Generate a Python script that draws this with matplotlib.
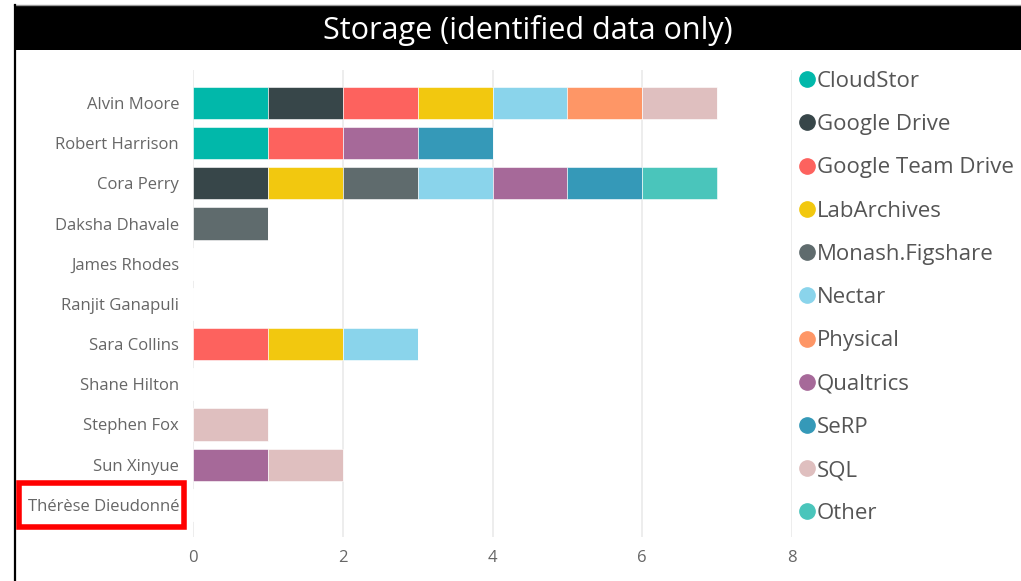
import matplotlib
matplotlib.use("Agg")
import matplotlib.pyplot as plt
from matplotlib.patches import Rectangle
from matplotlib.lines import Line2D
import numpy as np

people = ["Alvin Moore", "Robert Harrison", "Cora Perry", "Daksha Dhavale",
          "James Rhodes", "Ranjit Ganapuli", "Sara Collins", "Shane Hilton",
          "Stephen Fox", "Sun Xinyue", "Thérèse Dieudonné"]
storages = ["CloudStor", "Google Drive", "Google Team Drive", "LabArchives",
            "Monash.Figshare", "Nectar", "Physical", "Qualtrics", "SeRP", "SQL", "Other"]
colors = ["#01B8AA", "#374649", "#FD625E", "#F2C80F", "#5F6B6D", "#8AD4EB",
          "#FE9666", "#A66999", "#3599B8", "#DFBFBF", "#4AC5BB"]

# counts per storage, one value per person (in people order)
cloudstor     = [1, 1, 0, 0, 0, 0, 0, 0, 0, 0, 0]
google_drive  = [1, 0, 1, 0, 0, 0, 0, 0, 0, 0, 0]
google_team   = [1, 1, 0, 0, 0, 0, 1, 0, 0, 0, 0]
labarchives   = [1, 0, 1, 0, 0, 0, 1, 0, 0, 0, 0]
monash_fig    = [0, 0, 1, 1, 0, 0, 0, 0, 0, 0, 0]
nectar        = [1, 0, 1, 0, 0, 0, 1, 0, 0, 0, 0]
physical      = [1, 0, 0, 0, 0, 0, 0, 0, 0, 0, 0]
qualtrics     = [0, 1, 1, 0, 0, 0, 0, 0, 0, 1, 0]
serp          = [0, 1, 1, 0, 0, 0, 0, 0, 0, 0, 0]
sql           = [1, 0, 0, 0, 0, 0, 0, 0, 1, 1, 0]
other         = [0, 0, 1, 0, 0, 0, 0, 0, 0, 0, 0]
series = [cloudstor, google_drive, google_team, labarchives, monash_fig, nectar,
          physical, qualtrics, serp, sql, other]
xticks = [0, 2, 4, 6, 8]

FONT = ["Open Sans", "DejaVu Sans"]
plt.rcParams["font.family"] = FONT

W, H = 1021, 581
fig = plt.figure(figsize=(W / 100, H / 100), dpi=100)
fig.patch.set_facecolor("white")

def fx(px):
    return px / W

def fy(py):
    return 1 - py / H

ax = fig.add_axes([fx(193), fy(537), fx(792) - fx(193), fy(70) - fy(537)])
y = np.arange(len(people))
left = np.zeros(len(people))
for vals, c, name in zip(series, colors, storages):
    v = np.array(vals, dtype=float)
    ax.barh(y, v, left=left, height=0.8, color=c, edgecolor="white", linewidth=0.4, label=name, zorder=3)
    left += v

ax.set_xlim(0, 8)
ax.set_ylim(len(people) - 1 + 0.8, -0.82)
ax.set_xticks(xticks)
ax.set_xticklabels([str(t) for t in xticks])
ax.set_yticks(y)
ax.set_yticklabels(people)
ax.grid(axis="x", color="#EAEAEA", linewidth=1.2, zorder=0)
ax.tick_params(axis="both", length=0, labelcolor="#666666", labelsize=12)
ax.tick_params(axis="y", pad=10)
ax.tick_params(axis="x", pad=9)
for s in ax.spines.values():
    s.set_visible(False)

# legend
handles = [Line2D([0], [0], marker="o", linestyle="none", markersize=11,
                  markerfacecolor=c, markeredgecolor=c) for c in colors]
fig.legend(handles, storages, loc="upper left", bbox_to_anchor=(fx(799), fy(71)),
           frameon=False, fontsize=16, labelcolor="#555555", handlelength=0.7,
           handletextpad=0.1, labelspacing=1.0, borderaxespad=0, borderpad=0)

# title bar and frame
fig.patches.append(Rectangle((fx(14), fy(50)), 1 - fx(14), fy(5) - fy(50),
                             transform=fig.transFigure, facecolor="black",
                             edgecolor="none", zorder=0))
fig.add_artist(Line2D([fx(14), 1], [fy(4.5), fy(4.5)], transform=fig.transFigure,
                      color="#999999", linewidth=1))
fig.add_artist(Line2D([fx(15), fx(15)], [0, fy(5)], transform=fig.transFigure,
                      color="black", linewidth=1.6))
fig.text(fx(528), fy(31), "Storage (identified data only)", color="white",
         fontsize=22, ha="center", va="center")

# red highlight box
fig.patches.append(Rectangle((fx(19), fy(527)), fx(184) - fx(19), fy(483) - fy(527),
                             transform=fig.transFigure, facecolor="none",
                             edgecolor="#FF0000", linewidth=4, zorder=5))

fig.savefig("out.png", dpi=100)
